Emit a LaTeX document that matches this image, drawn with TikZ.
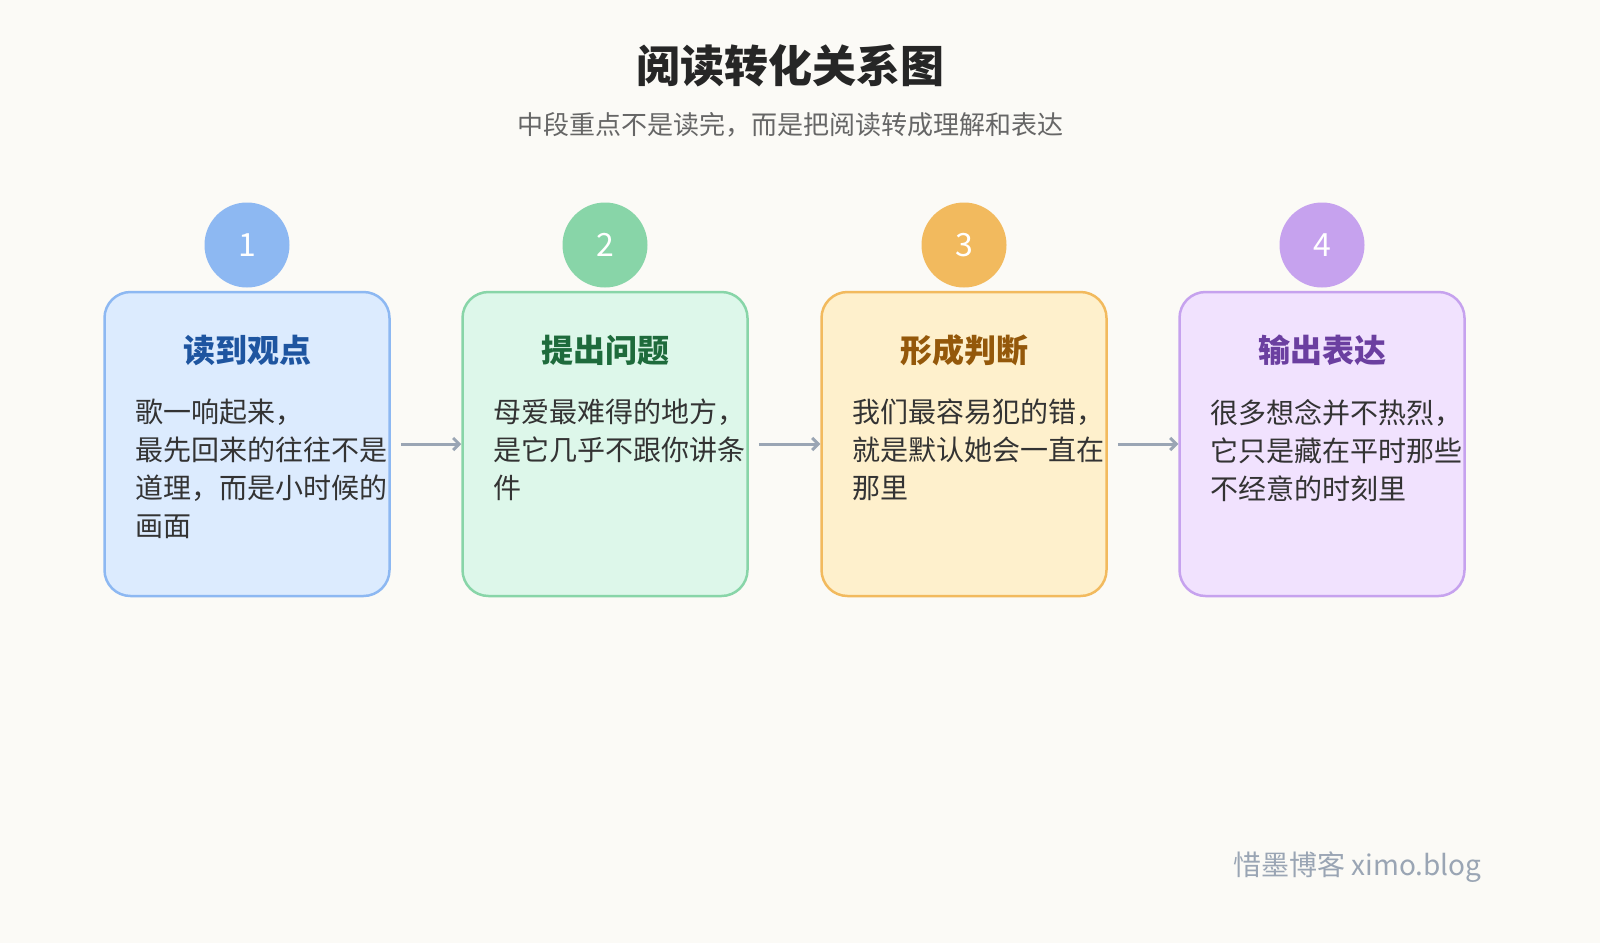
\documentclass[tikz,border=0pt]{standalone}
\usepackage{fontspec}
\setmainfont{Noto Sans CJK SC}
\usetikzlibrary{arrows.meta}
\definecolor{bg}{HTML}{FBFAF6}
\definecolor{fA}{HTML}{DCEBFE}\definecolor{bA}{HTML}{8DB8F2}\definecolor{tA}{HTML}{1E55A0}
\definecolor{fB}{HTML}{DDF7EA}\definecolor{bB}{HTML}{88D5A8}\definecolor{tB}{HTML}{1E6B3C}
\definecolor{fC}{HTML}{FEF0CC}\definecolor{bC}{HTML}{F2BA5E}\definecolor{tC}{HTML}{94580A}
\definecolor{fD}{HTML}{F1E2FE}\definecolor{bD}{HTML}{C6A2EE}\definecolor{tD}{HTML}{6B3FA0}
\definecolor{ar}{HTML}{9AA5B4}
\tikzset{
 card/.style={draw=#1,line width=2.5pt,rounded corners=26pt,minimum width=285pt,minimum height=304pt,inner sep=0},
 num/.style={circle,fill=#1,minimum size=85pt,inner sep=0,text=white,font=\fontsize{32}{32}\selectfont},
 ttl/.style={text=#1,font=\fontsize{32}{32}\selectfont\bfseries},
 body/.style={text=black!80,font=\fontsize{28}{38}\selectfont,align=left,anchor=north west,inner sep=0},
 conn/.style={draw=ar,line width=3pt,-{Straight Barb[length=6pt,width=12pt]}}
}
\begin{document}
\begin{tikzpicture}[x=1pt,y=-1pt]
\useasboundingbox (0,0) rectangle (1600,943);
\fill[bg] (0,0) rectangle (1600,943);
\node[font=\fontsize{44}{44}\selectfont\bfseries,text=black!85] (title) at (790,66) {阅读转化关系图};
\node[font=\fontsize{26}{26}\selectfont,text=black!60] (sub) at (790,125) {中段重点不是读完，而是把阅读转成理解和表达};
\foreach \i/\x/\c/\t/\b in {
 1/247/A/读到观点/{歌一响起来，\\最先回来的往往不是\\道理，而是小时候的\\画面},
 2/605/B/提出问题/{母爱最难得的地方，\\是它几乎不跟你讲条\\件},
 3/964/C/形成判断/{我们最容易犯的错，\\就是默认她会一直在\\那里},
 4/1322/D/输出表达/{很多想念并不热烈，\\它只是藏在平时那些\\不经意的时刻里}}{
 \node[card=b\c,fill=f\c] (box\i) at (\x,444) {};
 \node[num=b\c] (n\i) at (\x,245) {\i};
 \node[ttl=t\c] (t\i) at (\x,350) {\t};
 \node[body] (b\i) at (\x-112,399) {\b};
}
\foreach \a/\b in {1/2,2/3,3/4}{
 \draw[conn] ([xshift=10pt]box\a.east) -- (box\b.west);
}
\node[anchor=east,font=\fontsize{28}{28}\selectfont,text=ar] (foot) at (1485,867) {惜墨博客 ximo.blog};
\end{tikzpicture}
\end{document}
